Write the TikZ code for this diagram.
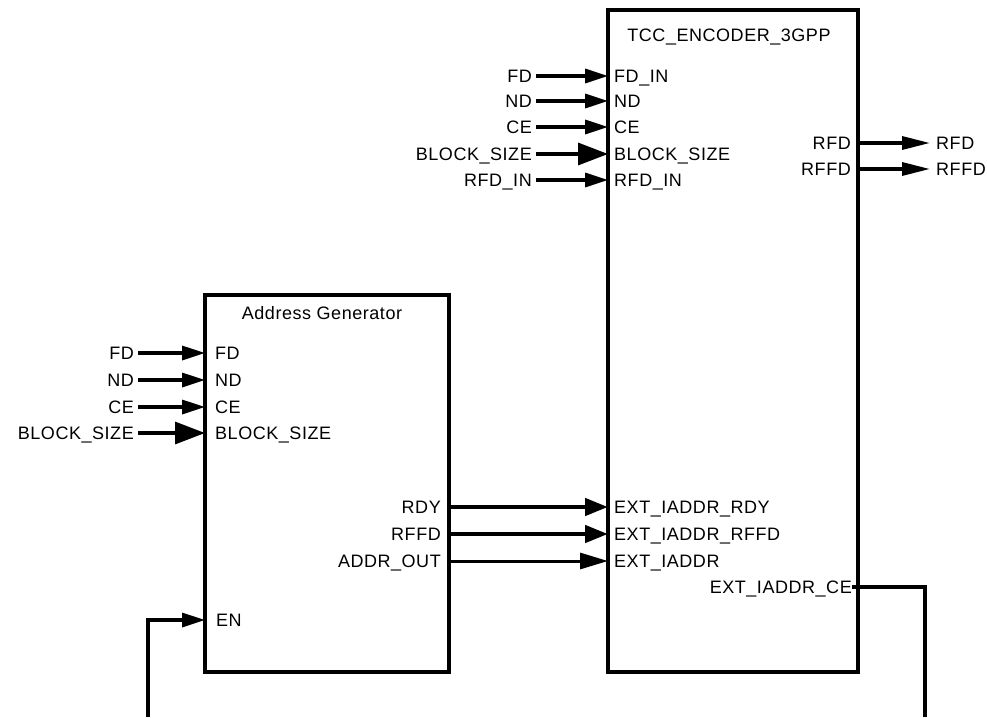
\documentclass[tikz,border=0pt]{standalone}
\usepackage{fontspec}
\newfontfamily\labfont[LetterSpace=3]{Liberation Sans}
\usetikzlibrary{arrows.meta}
\tikzset{
  lab/.style={inner ysep=0pt, inner xsep=0pt, text height=12.9pt, text depth=0pt, font=\labfont\fontsize{18}{21}\selectfont},
  olab/.style={lab, inner xsep=4pt},
  rlab/.style={lab, inner xsep=6pt},
  block/.style={draw, line width=3.5pt, outer sep=0pt, inner sep=0pt, anchor=north west},
  sig/.style={line width=3.3pt, -{Triangle[length=23pt,width=14pt]}},
  bus/.style={line width=3.3pt, -{Triangle[length=30pt,width=22pt]}},
  thk/.style={line width=4.5pt, -{Triangle[length=23pt,width=17pt]}},
  thn/.style={line width=3pt, -{Triangle[length=28pt,width=16pt]}},
  outs/.style={line width=3.3pt, -{Triangle[length=28pt,width=13pt]}},
  wire/.style={line width=3.3pt}
}
\begin{document}
\begin{tikzpicture}[x=1pt,y=-1pt]
\useasboundingbox (0,0) rectangle (987,717);
% blocks
\node[block, minimum width=250pt, minimum height=662pt] (tcc) at (608,10) {};
\node[block, minimum width=244pt, minimum height=377pt] (ag) at (205,295) {};
\node[lab] (tcct) at (729,35) {TCC\_ENCODER\_3GPP};
\node[lab] (agt) at (322,313) {Address Generator};
% TCC ports (inside)
\node[lab, anchor=west] (pfdin) at (614,76) {FD\_IN};
\node[lab, anchor=west] (pnd) at (614,101) {ND};
\node[lab, anchor=west] (pce) at (614,127) {CE};
\node[lab, anchor=west] (pbs) at (614,154) {BLOCK\_SIZE};
\node[lab, anchor=west] (prfdin) at (614,180) {RFD\_IN};
\node[lab, anchor=east] (prfd) at (851,143) {RFD};
\node[lab, anchor=east] (prffd) at (851,169) {RFFD};
\node[lab, anchor=west] (prdy) at (614,507) {EXT\_IADDR\_RDY};
\node[lab, anchor=west] (pxrffd) at (614,534) {EXT\_IADDR\_RFFD};
\node[lab, anchor=west] (pxaddr) at (614,561) {EXT\_IADDR};
\node[lab, anchor=east] (pxce) at (852,587) {EXT\_IADDR\_CE};
% TCC external labels
\node[olab, anchor=east] (efd) at (536,76) {FD};
\node[olab, anchor=east] (end) at (536,101) {ND};
\node[olab, anchor=east] (ece) at (536,127) {CE};
\node[olab, anchor=east] (ebs) at (536,154) {BLOCK\_SIZE};
\node[olab, anchor=east] (erfdin) at (536,180) {RFD\_IN};
\node[rlab, anchor=west] (orfd) at (930,143) {RFD};
\node[rlab, anchor=west] (orffd) at (930,169) {RFFD};
% AG ports (inside)
\node[lab, anchor=west] (afd) at (215,353) {FD};
\node[lab, anchor=west] (and) at (215,380) {ND};
\node[lab, anchor=west] (ace) at (215,407) {CE};
\node[lab, anchor=west] (abs) at (215,433) {BLOCK\_SIZE};
\node[lab, anchor=west] (aen) at (216,620) {EN};
\node[lab, anchor=east] (ardy) at (441,507) {RDY};
\node[lab, anchor=east] (arffd) at (441,534) {RFFD};
\node[lab, anchor=east] (aaddr) at (441,561) {ADDR\_OUT};
% AG external labels
\node[olab, anchor=east] (gfd) at (138,353) {FD};
\node[olab, anchor=east] (gnd) at (138,380) {ND};
\node[olab, anchor=east] (gce) at (138,407) {CE};
\node[olab, anchor=east] (gbs) at (138,433) {BLOCK\_SIZE};
% free ends
\coordinate (enbot) at (148,717);
\coordinate (cecorner) at (925,587);
\coordinate (cebot) at (925,717);
% TCC inputs
\draw[sig] (efd.east) -- (efd -| tcc.west);
\draw[sig] (end.east) -- (end -| tcc.west);
\draw[sig] (ece.east) -- (ece -| tcc.west);
\draw[bus] (ebs.east) -- (ebs -| tcc.west);
\draw[sig] (erfdin.east) -- (erfdin -| tcc.west);
% TCC outputs
\draw[outs] (prfd -| tcc.east) -- (orfd.west);
\draw[outs] (prffd -| tcc.east) -- (orffd.west);
% AG inputs
\draw[sig] (gfd.east) -- (gfd -| ag.west);
\draw[sig] (gnd.east) -- (gnd -| ag.west);
\draw[sig] (gce.east) -- (gce -| ag.west);
\draw[bus] (gbs.east) -- (gbs -| ag.west);
% AG -> TCC
\draw[thk] (ardy -| ag.east) -- (ardy -| tcc.west);
\draw[thk] (arffd -| ag.east) -- (arffd -| tcc.west);
\draw[thn] (aaddr -| ag.east) -- (aaddr -| tcc.west);
% EN and CE
\draw[sig] (enbot) |- (aen -| ag.west);
\draw[wire] (pxce.east) -- (cecorner) -- (cebot);
\end{tikzpicture}
\end{document}
